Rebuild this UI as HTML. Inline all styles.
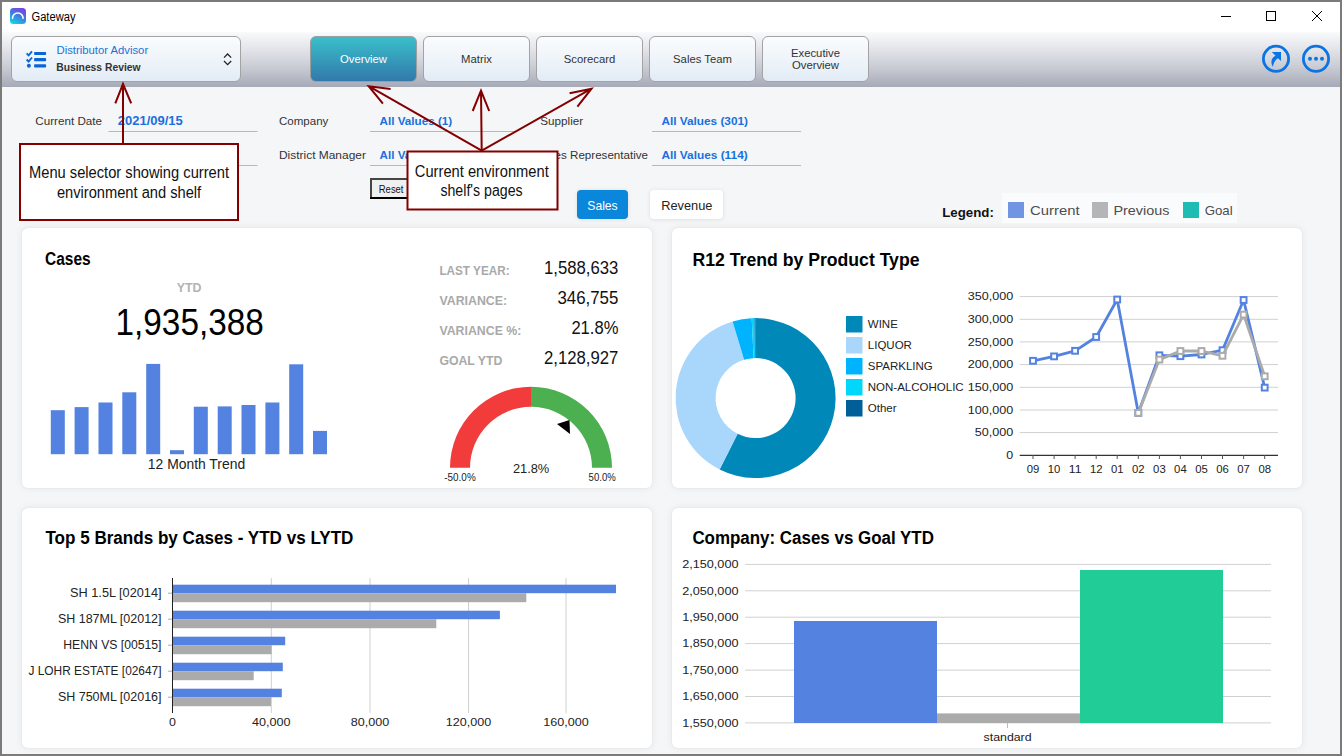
<!DOCTYPE html>
<html><head><meta charset="utf-8">
<style>
*{margin:0;padding:0;box-sizing:border-box}
html,body{width:1342px;height:756px;overflow:hidden;background:#7b7b7b;font-family:"Liberation Sans",sans-serif}
#win{position:absolute;left:2px;top:2px;width:1338px;height:752px;background:#f5f6f8;overflow:hidden}
#title{position:absolute;left:0;top:0;width:1338px;height:30px;background:#fff}
#tb{position:absolute;left:0;top:30px;width:1338px;height:55px;background:linear-gradient(#f9fafb 0%,#e4e5ea 30%,#c8cbd3 65%,#a6aab7 100%)}
.btn{position:absolute;top:4px;height:46px;border:1px solid #a3a3a3;border-radius:6px;background:linear-gradient(#fbfcfd,#e2ecf6)}
.tab{width:107px}
.tab.act{background:linear-gradient(#3abfca,#3279ab);border-color:#9e9e9e}
.card{position:absolute;background:#fff;border-radius:6px;box-shadow:0 0 9px rgba(0,0,0,0.075),0 0 2px rgba(0,0,0,0.07)}
svg{position:absolute;left:0;top:0;overflow:visible}
</style></head><body>
<div id="win">
  <div id="title"></div>
  <div id="tb">
    <div class="btn" style="left:9px;width:230px"></div>
    <div class="btn tab act" style="left:308px"></div>
    <div class="btn tab" style="left:421px"></div>
    <div class="btn tab" style="left:534px"></div>
    <div class="btn tab" style="left:647px"></div>
    <div class="btn tab" style="left:760px"></div>
  </div>
  <div class="card" style="left:20px;top:226px;width:630px;height:260px"></div>
  <div class="card" style="left:670px;top:226px;width:630px;height:260px"></div>
  <div class="card" style="left:20px;top:506px;width:630px;height:240px"></div>
  <div class="card" style="left:670px;top:506px;width:630px;height:240px"></div>
</div>
<svg width="1342" height="756" viewBox="0 0 1342 756" font-family="Liberation Sans, sans-serif">

<defs>
 <linearGradient id="ig" x1="0.75" y1="0" x2="0.25" y2="1"><stop offset="0" stop-color="#7a3fe0"/><stop offset="0.5" stop-color="#3f7fe0"/><stop offset="1" stop-color="#0fd6ea"/></linearGradient>
</defs>
<rect x="10" y="8" width="16" height="16" rx="3.5" fill="url(#ig)"/>
<path d="M12.5 18.3 A5.3 5.3 0 0 1 23.1 18.3" fill="none" stroke="#fff" stroke-width="1.6" stroke-linecap="round"/>
<path d="M1221 16.5 H1231" stroke="#000" stroke-width="1"/>
<rect x="1266.5" y="11.5" width="9" height="9" fill="none" stroke="#000" stroke-width="1"/>
<path d="M1312 11 L1322 21 M1322 11 L1312 21" stroke="#000" stroke-width="1"/>

<text x="31.5" y="20.9" font-size="12" fill="#000" textLength="44" lengthAdjust="spacingAndGlyphs">Gateway</text>
<g fill="#0a66d8">
 <path d="M26.6 53.4 L28.6 55.4 L32 51.4" fill="none" stroke="#0a66d8" stroke-width="1.9"/>
 <path d="M26.6 59.5 L28.6 61.5 L32 57.5" fill="none" stroke="#0a66d8" stroke-width="1.9"/>
 <circle cx="28.9" cy="65.8" r="2"/>
 <rect x="34.1" y="51.9" width="12" height="3.1" rx="0.8"/>
 <rect x="34.1" y="58.1" width="12" height="3.1" rx="0.8"/>
 <rect x="34.1" y="64.3" width="12" height="3.2" rx="0.8"/>
</g>
<path d="M224 57.6 L227.6 54 L231.2 57.6 M224 61 L227.6 64.6 L231.2 61" fill="none" stroke="#222" stroke-width="1.25"/>

<text x="56.5" y="53.5" font-size="11.3" fill="#1a73d9">Distributor Advisor</text>
<text x="56.2" y="70.6" font-size="11.3" fill="#333" font-weight="bold" textLength="84.4" lengthAdjust="spacingAndGlyphs">Business Review</text>
<text x="363.5" y="62.8" font-size="11.3" fill="#fff" text-anchor="middle">Overview</text>
<text x="476.5" y="62.8" font-size="11.3" fill="#333" text-anchor="middle">Matrix</text>
<text x="589.5" y="62.8" font-size="11.3" fill="#333" text-anchor="middle">Scorecard</text>
<text x="702.5" y="62.8" font-size="11.3" fill="#333" text-anchor="middle">Sales Team</text>
<text x="815.5" y="56.8" font-size="11.3" fill="#333" text-anchor="middle">Executive</text>
<text x="815.5" y="68.8" font-size="11.3" fill="#333" text-anchor="middle">Overview</text>
<circle cx="1276" cy="58.8" r="12.6" fill="none" stroke="#0b74e5" stroke-width="2.8"/>
<path d="M1272.8 66.8 C1270.3 62 1271.3 57.8 1275.6 55.8 L1271.8 52.1 L1281 52.1 L1281 61.1 L1277.9 58.2 C1275.2 60 1273.5 63 1272.8 66.8 Z" fill="#0b74e5"/>
<circle cx="1316" cy="58.8" r="12.6" fill="none" stroke="#0b74e5" stroke-width="2.8"/>
<circle cx="1310" cy="58.8" r="2" fill="#0b74e5"/>
<circle cx="1316" cy="58.8" r="2" fill="#0b74e5"/>
<circle cx="1322" cy="58.8" r="2" fill="#0b74e5"/>

<text x="35.3" y="125" font-size="11.6" fill="#333" textLength="66.7" lengthAdjust="spacingAndGlyphs">Current Date</text>
<text x="279" y="125" font-size="11.6" fill="#333" textLength="49.4" lengthAdjust="spacingAndGlyphs">Company</text>
<text x="279" y="159" font-size="11.6" fill="#333" textLength="86.9" lengthAdjust="spacingAndGlyphs">District Manager</text>
<text x="540.3" y="125" font-size="11.6" fill="#333" textLength="42.9" lengthAdjust="spacingAndGlyphs">Supplier</text>
<text x="648" y="159" font-size="11.6" fill="#333" text-anchor="end">Sales Representative</text>
<text x="117.8" y="124.8" font-size="13" fill="#1a70dd" font-weight="bold" textLength="65" lengthAdjust="spacingAndGlyphs">2021/09/15</text>
<text x="379.6" y="125" font-size="11.6" fill="#1a70dd" font-weight="bold" textLength="72.6" lengthAdjust="spacingAndGlyphs">All Values (1)</text>
<text x="379.6" y="159" font-size="11.6" fill="#1a70dd" font-weight="bold">All Values (52)</text>
<text x="661.4" y="125" font-size="11.6" fill="#1a70dd" font-weight="bold" textLength="86.6" lengthAdjust="spacingAndGlyphs">All Values (301)</text>
<text x="661.4" y="159" font-size="11.6" fill="#1a70dd" font-weight="bold" textLength="86.3" lengthAdjust="spacingAndGlyphs">All Values (114)</text>
<g stroke="#8fc1f2" stroke-width="1">
 <path d="M108.5 131.5 H257.5 M108.5 165.5 H257.5"/>
 <path d="M370 131.5 H516 M370 165.5 H516"/>
 <path d="M652 131.5 H801 M652 165.5 H801"/>
</g>
<rect x="370" y="178" width="62" height="21" fill="#454545"/><rect x="370" y="197" width="62" height="2" fill="#000"/><rect x="372" y="180" width="60" height="17" fill="#f0f0f0"/>

<text x="378.8" y="193" font-size="11" fill="#111" textLength="24.7" lengthAdjust="spacingAndGlyphs">Reset</text>
<defs><filter id="sh" x="-20%" y="-30%" width="140%" height="160%"><feGaussianBlur stdDeviation="2"/></filter></defs>
<rect x="577" y="190.5" width="51" height="29" rx="4" fill="rgba(0,0,0,0.10)" filter="url(#sh)"/><rect x="650" y="190.5" width="73" height="29" rx="4" fill="rgba(0,0,0,0.10)" filter="url(#sh)"/>
<rect x="577" y="190" width="51" height="29" rx="4" fill="#0a86da"/>
<text x="587.3" y="209.5" font-size="13.5" fill="#fff" textLength="30.4" lengthAdjust="spacingAndGlyphs">Sales</text>
<rect x="650" y="190" width="73" height="29" rx="4" fill="#fff"/>
<text x="661.2" y="209.5" font-size="13.5" fill="#222" textLength="51.3" lengthAdjust="spacingAndGlyphs">Revenue</text>
<text x="942.2" y="216.9" font-size="13" fill="#111" font-weight="bold" textLength="51.7" lengthAdjust="spacingAndGlyphs">Legend:</text>
<rect x="1002" y="193" width="235" height="30" fill="#f9fbfc"/>
<rect x="1008" y="202" width="16" height="16" fill="#6f95e3"/>
<text x="1030" y="215" font-size="13.3" fill="#4d4d4d" textLength="49.6" lengthAdjust="spacingAndGlyphs">Current</text>
<rect x="1092" y="202" width="16" height="16" fill="#b3b5b6"/>
<text x="1113.4" y="215" font-size="13.3" fill="#4d4d4d" textLength="56" lengthAdjust="spacingAndGlyphs">Previous</text>
<rect x="1183" y="202" width="16" height="16" fill="#1fbcb4"/>
<text x="1204.7" y="215" font-size="13.3" fill="#4d4d4d" textLength="28" lengthAdjust="spacingAndGlyphs">Goal</text>
<text x="45" y="264.8" font-size="17.5" fill="#000" font-weight="bold" textLength="45.6" lengthAdjust="spacingAndGlyphs">Cases</text>
<text x="176.7" y="291.7" font-size="13.3" fill="#b3b3b3" font-weight="bold" textLength="24.8" lengthAdjust="spacingAndGlyphs">YTD</text>
<text x="115.5" y="335" font-size="36" fill="#000" textLength="148.3" lengthAdjust="spacingAndGlyphs">1,935,388</text>
<g fill="#5382e0"><rect x="50.8" y="410.2" width="14" height="44.0"/><rect x="74.6" y="407.1" width="14" height="47.1"/><rect x="98.5" y="402.5" width="14" height="51.7"/><rect x="122.3" y="392.3" width="14" height="61.9"/><rect x="146.2" y="363.9" width="14" height="90.3"/><rect x="170.0" y="450.2" width="14" height="4.0"/><rect x="193.8" y="406.7" width="14" height="47.5"/><rect x="217.7" y="406.4" width="14" height="47.8"/><rect x="241.5" y="405.0" width="14" height="49.2"/><rect x="265.4" y="402.5" width="14" height="51.7"/><rect x="289.2" y="364.3" width="14" height="89.9"/><rect x="313.0" y="430.9" width="14" height="23.3"/></g>
<text x="196.5" y="469.3" font-size="13.9" fill="#222" text-anchor="middle">12 Month Trend</text>
<text x="439.4" y="275" font-size="12.5" fill="#a9a9a9" font-weight="bold" textLength="70.2" lengthAdjust="spacingAndGlyphs">LAST YEAR:</text>
<text x="439.4" y="305" font-size="12.5" fill="#a9a9a9" font-weight="bold" textLength="67.7" lengthAdjust="spacingAndGlyphs">VARIANCE:</text>
<text x="439.4" y="335" font-size="12.5" fill="#a9a9a9" font-weight="bold" textLength="82" lengthAdjust="spacingAndGlyphs">VARIANCE %:</text>
<text x="439.4" y="365" font-size="12.5" fill="#a9a9a9" font-weight="bold" textLength="63" lengthAdjust="spacingAndGlyphs">GOAL YTD</text>
<text x="544.0" y="274" font-size="18" fill="#111" textLength="74.4" lengthAdjust="spacingAndGlyphs">1,588,633</text>
<text x="557.4" y="304" font-size="18" fill="#111" textLength="61" lengthAdjust="spacingAndGlyphs">346,755</text>
<text x="571.4" y="334" font-size="18" fill="#111" textLength="47" lengthAdjust="spacingAndGlyphs">21.8%</text>
<text x="544.0" y="364" font-size="18" fill="#111" textLength="74.4" lengthAdjust="spacingAndGlyphs">2,128,927</text>
<path d="M450 467.8 A81 81 0 0 1 531 386.8 V406.8 A61 61 0 0 0 470 467.8 Z" fill="#f23b3b"/>
<path d="M531 386.8 A81 81 0 0 1 612 467.8 H592 A61 61 0 0 0 531 406.8 Z" fill="#4caf50"/>
<path d="M557 424 L569.5 420 L570 434 Z" fill="#000"/>
<text x="512.9" y="472.9" font-size="13.5" fill="#222" textLength="36.4" lengthAdjust="spacingAndGlyphs">21.8%</text>
<text x="444.3" y="481.4" font-size="10.5" fill="#222" textLength="31.4" lengthAdjust="spacingAndGlyphs">-50.0%</text>
<text x="588.6" y="481.4" font-size="10.5" fill="#222" textLength="27.1" lengthAdjust="spacingAndGlyphs">50.0%</text>
<text x="692.5" y="266" font-size="17.5" fill="#000" font-weight="bold" textLength="227" lengthAdjust="spacingAndGlyphs">R12 Trend by Product Type</text>
<path d="M755.60 318.10 A80 80 0 1 1 719.65 469.57 L737.63 433.83 A40 40 0 1 0 755.60 358.10 Z" fill="#0088b9"/>
<path d="M719.65 469.57 A80 80 0 0 1 732.61 321.47 L744.11 359.79 A40 40 0 0 0 737.63 433.83 Z" fill="#a9d6fb"/>
<path d="M732.61 321.47 A80 80 0 0 1 751.69 318.20 L753.65 358.15 A40 40 0 0 0 744.11 359.79 Z" fill="#00b3ff"/>
<path d="M751.69 318.20 A80 80 0 0 1 754.48 318.11 L755.04 358.10 A40 40 0 0 0 753.65 358.15 Z" fill="#00d7fb"/>
<path d="M754.48 318.11 A80 80 0 0 1 755.60 318.10 L755.60 358.10 A40 40 0 0 0 755.04 358.10 Z" fill="#005e99"/>
<rect x="846" y="316" width="16.5" height="16.5" fill="#0088b9"/>
<text x="867.8" y="327.7" font-size="11.5" fill="#222">WINE</text>
<rect x="846" y="337" width="16.5" height="16.5" fill="#a9d6fb"/>
<text x="867.8" y="348.7" font-size="11.5" fill="#222">LIQUOR</text>
<rect x="846" y="358" width="16.5" height="16.5" fill="#00b3ff"/>
<text x="867.8" y="369.7" font-size="11.5" fill="#222">SPARKLING</text>
<rect x="846" y="379" width="16.5" height="16.5" fill="#00d7fb"/>
<text x="867.8" y="390.7" font-size="11.5" fill="#222">NON-ALCOHOLIC</text>
<rect x="846" y="400" width="16.5" height="16.5" fill="#005e99"/>
<text x="867.8" y="411.7" font-size="11.5" fill="#222">Other</text>
<path d="M1019.7 296.6 H1278" stroke="#d0d0d0" stroke-width="1"/><path d="M1019.7 319.3 H1278" stroke="#d0d0d0" stroke-width="1"/><path d="M1019.7 341.9 H1278" stroke="#d0d0d0" stroke-width="1"/><path d="M1019.7 364.6 H1278" stroke="#d0d0d0" stroke-width="1"/><path d="M1019.7 387.3 H1278" stroke="#d0d0d0" stroke-width="1"/><path d="M1019.7 410.0 H1278" stroke="#d0d0d0" stroke-width="1"/><path d="M1019.7 432.6 H1278" stroke="#d0d0d0" stroke-width="1"/>
<path d="M1019.7 455.3 H1278" stroke="#333" stroke-width="1.2"/>
<path d="M1033.0 455 V459 M1054.1 455 V459 M1075.1 455 V459 M1096.2 455 V459 M1117.2 455 V459 M1138.3 455 V459 M1159.4 455 V459 M1180.4 455 V459 M1201.5 455 V459 M1222.5 455 V459 M1243.6 455 V459 M1264.7 455 V459 " stroke="#555" stroke-width="1"/>
<text x="967.86" y="300.4" font-size="11" fill="#222" textLength="45.44" lengthAdjust="spacingAndGlyphs">350,000</text>
<text x="967.86" y="323.1" font-size="11" fill="#222" textLength="45.44" lengthAdjust="spacingAndGlyphs">300,000</text>
<text x="967.86" y="345.7" font-size="11" fill="#222" textLength="45.44" lengthAdjust="spacingAndGlyphs">250,000</text>
<text x="967.86" y="368.4" font-size="11" fill="#222" textLength="45.44" lengthAdjust="spacingAndGlyphs">200,000</text>
<text x="967.86" y="391.1" font-size="11" fill="#222" textLength="45.44" lengthAdjust="spacingAndGlyphs">150,000</text>
<text x="967.86" y="413.8" font-size="11" fill="#222" textLength="45.44" lengthAdjust="spacingAndGlyphs">100,000</text>
<text x="974.78" y="436.4" font-size="11" fill="#222" textLength="38.52" lengthAdjust="spacingAndGlyphs">50,000</text>
<text x="1006.39" y="459.1" font-size="11" fill="#222" textLength="6.91" lengthAdjust="spacingAndGlyphs">0</text>
<text x="1026.7" y="472.5" font-size="11" fill="#222" textLength="12.6" lengthAdjust="spacingAndGlyphs">09</text>
<text x="1047.8" y="472.5" font-size="11" fill="#222" textLength="12.6" lengthAdjust="spacingAndGlyphs">10</text>
<text x="1068.8" y="472.5" font-size="11" fill="#222" textLength="12.6" lengthAdjust="spacingAndGlyphs">11</text>
<text x="1089.9" y="472.5" font-size="11" fill="#222" textLength="12.6" lengthAdjust="spacingAndGlyphs">12</text>
<text x="1110.9" y="472.5" font-size="11" fill="#222" textLength="12.6" lengthAdjust="spacingAndGlyphs">01</text>
<text x="1132.0" y="472.5" font-size="11" fill="#222" textLength="12.6" lengthAdjust="spacingAndGlyphs">02</text>
<text x="1153.1" y="472.5" font-size="11" fill="#222" textLength="12.6" lengthAdjust="spacingAndGlyphs">03</text>
<text x="1174.1" y="472.5" font-size="11" fill="#222" textLength="12.6" lengthAdjust="spacingAndGlyphs">04</text>
<text x="1195.2" y="472.5" font-size="11" fill="#222" textLength="12.6" lengthAdjust="spacingAndGlyphs">05</text>
<text x="1216.2" y="472.5" font-size="11" fill="#222" textLength="12.6" lengthAdjust="spacingAndGlyphs">06</text>
<text x="1237.3" y="472.5" font-size="11" fill="#222" textLength="12.6" lengthAdjust="spacingAndGlyphs">07</text>
<text x="1258.4" y="472.5" font-size="11" fill="#222" textLength="12.6" lengthAdjust="spacingAndGlyphs">08</text>
<path d="M1033.0 360.8 L1054.1 356.4 L1075.1 350.8 L1096.2 337.0 L1117.2 299.5 L1138.3 412.9 L1159.4 355.3 L1180.4 356.2 L1201.5 354.5 L1222.5 350.2 L1243.6 300.0 L1264.7 387.6" fill="none" stroke="#5382e0" stroke-width="2.8" stroke-linejoin="round"/>
<rect x="1030.1" y="357.9" width="5.8" height="5.8" fill="#fff" stroke="#5382e0" stroke-width="2"/><rect x="1051.2" y="353.5" width="5.8" height="5.8" fill="#fff" stroke="#5382e0" stroke-width="2"/><rect x="1072.2" y="347.9" width="5.8" height="5.8" fill="#fff" stroke="#5382e0" stroke-width="2"/><rect x="1093.3" y="334.1" width="5.8" height="5.8" fill="#fff" stroke="#5382e0" stroke-width="2"/><rect x="1114.3" y="296.6" width="5.8" height="5.8" fill="#fff" stroke="#5382e0" stroke-width="2"/><rect x="1135.4" y="410.0" width="5.8" height="5.8" fill="#fff" stroke="#5382e0" stroke-width="2"/><rect x="1156.5" y="352.4" width="5.8" height="5.8" fill="#fff" stroke="#5382e0" stroke-width="2"/><rect x="1177.5" y="353.3" width="5.8" height="5.8" fill="#fff" stroke="#5382e0" stroke-width="2"/><rect x="1198.6" y="351.6" width="5.8" height="5.8" fill="#fff" stroke="#5382e0" stroke-width="2"/><rect x="1219.6" y="347.3" width="5.8" height="5.8" fill="#fff" stroke="#5382e0" stroke-width="2"/><rect x="1240.7" y="297.1" width="5.8" height="5.8" fill="#fff" stroke="#5382e0" stroke-width="2"/><rect x="1261.8" y="384.7" width="5.8" height="5.8" fill="#fff" stroke="#5382e0" stroke-width="2"/>
<path d="M1138.3 412.9 L1159.4 359.6 L1180.4 351.0 L1201.5 351.0 L1222.5 355.8 L1243.6 314.6 L1264.7 376.3" fill="none" stroke="#ababab" stroke-width="2.8" stroke-linejoin="round"/>
<rect x="1135.4" y="410.0" width="5.8" height="5.8" fill="#fff" stroke="#ababab" stroke-width="2"/><rect x="1156.5" y="356.7" width="5.8" height="5.8" fill="#fff" stroke="#ababab" stroke-width="2"/><rect x="1177.5" y="348.1" width="5.8" height="5.8" fill="#fff" stroke="#ababab" stroke-width="2"/><rect x="1198.6" y="348.1" width="5.8" height="5.8" fill="#fff" stroke="#ababab" stroke-width="2"/><rect x="1219.6" y="352.9" width="5.8" height="5.8" fill="#fff" stroke="#ababab" stroke-width="2"/><rect x="1240.7" y="311.7" width="5.8" height="5.8" fill="#fff" stroke="#ababab" stroke-width="2"/><rect x="1261.8" y="373.4" width="5.8" height="5.8" fill="#fff" stroke="#ababab" stroke-width="2"/>
<text x="45.4" y="544" font-size="17.5" fill="#000" font-weight="bold" textLength="308" lengthAdjust="spacingAndGlyphs">Top 5 Brands by Cases - YTD vs LYTD</text>
<path d="M271.3 578 V713" stroke="#cfcfcf" stroke-width="1"/><path d="M370 578 V713" stroke="#cfcfcf" stroke-width="1"/><path d="M468.6 578 V713" stroke="#cfcfcf" stroke-width="1"/><path d="M566 578 V713" stroke="#cfcfcf" stroke-width="1"/>
<rect x="172.5" y="584.7" width="443.5" height="8.5" fill="#5382e0"/>
<rect x="172.5" y="593.2" width="353.8" height="9" fill="#ababab"/>
<text x="70.1" y="597.2" font-size="12" fill="#222" textLength="91.4" lengthAdjust="spacingAndGlyphs">SH 1.5L [02014]</text>
<path d="M168 593.2 H172" stroke="#aaa" stroke-width="1"/>
<rect x="172.5" y="610.7" width="327.4" height="8.5" fill="#5382e0"/>
<rect x="172.5" y="619.2" width="263.8" height="9" fill="#ababab"/>
<text x="57.9" y="623.2" font-size="12" fill="#222" textLength="103.6" lengthAdjust="spacingAndGlyphs">SH 187ML [02012]</text>
<path d="M168 619.2 H172" stroke="#aaa" stroke-width="1"/>
<rect x="172.5" y="636.7" width="112.7" height="8.5" fill="#5382e0"/>
<rect x="172.5" y="645.2" width="99.1" height="9" fill="#ababab"/>
<text x="63.3" y="649.2" font-size="12" fill="#222" textLength="98.2" lengthAdjust="spacingAndGlyphs">HENN VS [00515]</text>
<path d="M168 645.2 H172" stroke="#aaa" stroke-width="1"/>
<rect x="172.5" y="662.7" width="110.3" height="8.5" fill="#5382e0"/>
<rect x="172.5" y="671.2" width="81.2" height="9" fill="#ababab"/>
<text x="28.5" y="675.2" font-size="12" fill="#222" textLength="133" lengthAdjust="spacingAndGlyphs">J LOHR ESTATE [02647]</text>
<path d="M168 671.2 H172" stroke="#aaa" stroke-width="1"/>
<rect x="172.5" y="688.7" width="109.3" height="8.5" fill="#5382e0"/>
<rect x="172.5" y="697.2" width="98.5" height="9" fill="#ababab"/>
<text x="57.9" y="701.2" font-size="12" fill="#222" textLength="103.6" lengthAdjust="spacingAndGlyphs">SH 750ML [02016]</text>
<path d="M168 697.2 H172" stroke="#aaa" stroke-width="1"/>
<path d="M172.5 578 V713" stroke="#222" stroke-width="1"/>
<text x="169.04" y="726.2" font-size="11" fill="#222" textLength="6.91" lengthAdjust="spacingAndGlyphs">0</text>
<text x="252.04" y="726.2" font-size="11" fill="#222" textLength="38.52" lengthAdjust="spacingAndGlyphs">40,000</text>
<text x="350.74" y="726.2" font-size="11" fill="#222" textLength="38.52" lengthAdjust="spacingAndGlyphs">80,000</text>
<text x="445.88" y="726.2" font-size="11" fill="#222" textLength="45.44" lengthAdjust="spacingAndGlyphs">120,000</text>
<text x="543.28" y="726.2" font-size="11" fill="#222" textLength="45.44" lengthAdjust="spacingAndGlyphs">160,000</text>
<text x="692.4" y="544" font-size="17.5" fill="#000" font-weight="bold" textLength="241.5" lengthAdjust="spacingAndGlyphs">Company: Cases vs Goal YTD</text>
<path d="M745.2 564.4 H1271" stroke="#d0d0d0" stroke-width="1"/>
<text x="682.2" y="568.2" font-size="11" fill="#222" textLength="56.3" lengthAdjust="spacingAndGlyphs">2,150,000</text>
<path d="M745.2 590.8 H1271" stroke="#d0d0d0" stroke-width="1"/>
<text x="682.2" y="594.6" font-size="11" fill="#222" textLength="56.3" lengthAdjust="spacingAndGlyphs">2,050,000</text>
<path d="M745.2 617.2 H1271" stroke="#d0d0d0" stroke-width="1"/>
<text x="682.2" y="621.0" font-size="11" fill="#222" textLength="56.3" lengthAdjust="spacingAndGlyphs">1,950,000</text>
<path d="M745.2 643.6 H1271" stroke="#d0d0d0" stroke-width="1"/>
<text x="682.2" y="647.4" font-size="11" fill="#222" textLength="56.3" lengthAdjust="spacingAndGlyphs">1,850,000</text>
<path d="M745.2 670.1 H1271" stroke="#d0d0d0" stroke-width="1"/>
<text x="682.2" y="673.9" font-size="11" fill="#222" textLength="56.3" lengthAdjust="spacingAndGlyphs">1,750,000</text>
<path d="M745.2 696.5 H1271" stroke="#d0d0d0" stroke-width="1"/>
<text x="682.2" y="700.3" font-size="11" fill="#222" textLength="56.3" lengthAdjust="spacingAndGlyphs">1,650,000</text>
<path d="M745.2 722.9 H1271" stroke="#d0d0d0" stroke-width="1"/>
<text x="682.2" y="726.7" font-size="11" fill="#222" textLength="56.3" lengthAdjust="spacingAndGlyphs">1,550,000</text>
<rect x="794" y="621" width="143" height="102" fill="#5382e0"/>
<rect x="937" y="713.4" width="143" height="9.6" fill="#ababab"/>
<rect x="1080" y="570" width="143" height="153" fill="#22cc96"/>
<path d="M1007.5 723 V728" stroke="#bbb" stroke-width="1"/>
<text x="983.6" y="741" font-size="11.5" fill="#222" textLength="48" lengthAdjust="spacingAndGlyphs">standard</text>
<g stroke="#840000" stroke-width="2" fill="none" stroke-linejoin="miter">
 <path d="M123 143 V84 M115.3 103.3 L123 84 L131.2 103.3"/>
 <path d="M481.7 150.7 L368.7 86.2 M390.6 89.1 L368.7 86.2 L382.9 103.6"/>
 <path d="M481.7 150.7 L481 90.7 M472.7 111 L481 90.7 L489.2 111"/>
 <path d="M481.7 150.7 L591.5 88.7 M569.6 93.2 L591.5 88.7 L577.4 106.7"/>
</g>
<rect x="20" y="144" width="218" height="76" fill="#fff" stroke="#840000" stroke-width="2"/>
<rect x="407.5" y="151.5" width="150" height="58" fill="#fff" stroke="#840000" stroke-width="2"/>

<text x="29" y="178.3" font-size="15.6" fill="#111" textLength="200" lengthAdjust="spacingAndGlyphs">Menu selector showing current</text>
<text x="56.9" y="197.8" font-size="15.6" fill="#111" textLength="144.3" lengthAdjust="spacingAndGlyphs">environment and shelf</text>
<text x="414.8" y="176.9" font-size="15.6" fill="#111" textLength="134" lengthAdjust="spacingAndGlyphs">Current environment</text>
<text x="440.4" y="195.8" font-size="15.6" fill="#111" textLength="82.3" lengthAdjust="spacingAndGlyphs">shelf's pages</text>
</svg>
</body></html>
